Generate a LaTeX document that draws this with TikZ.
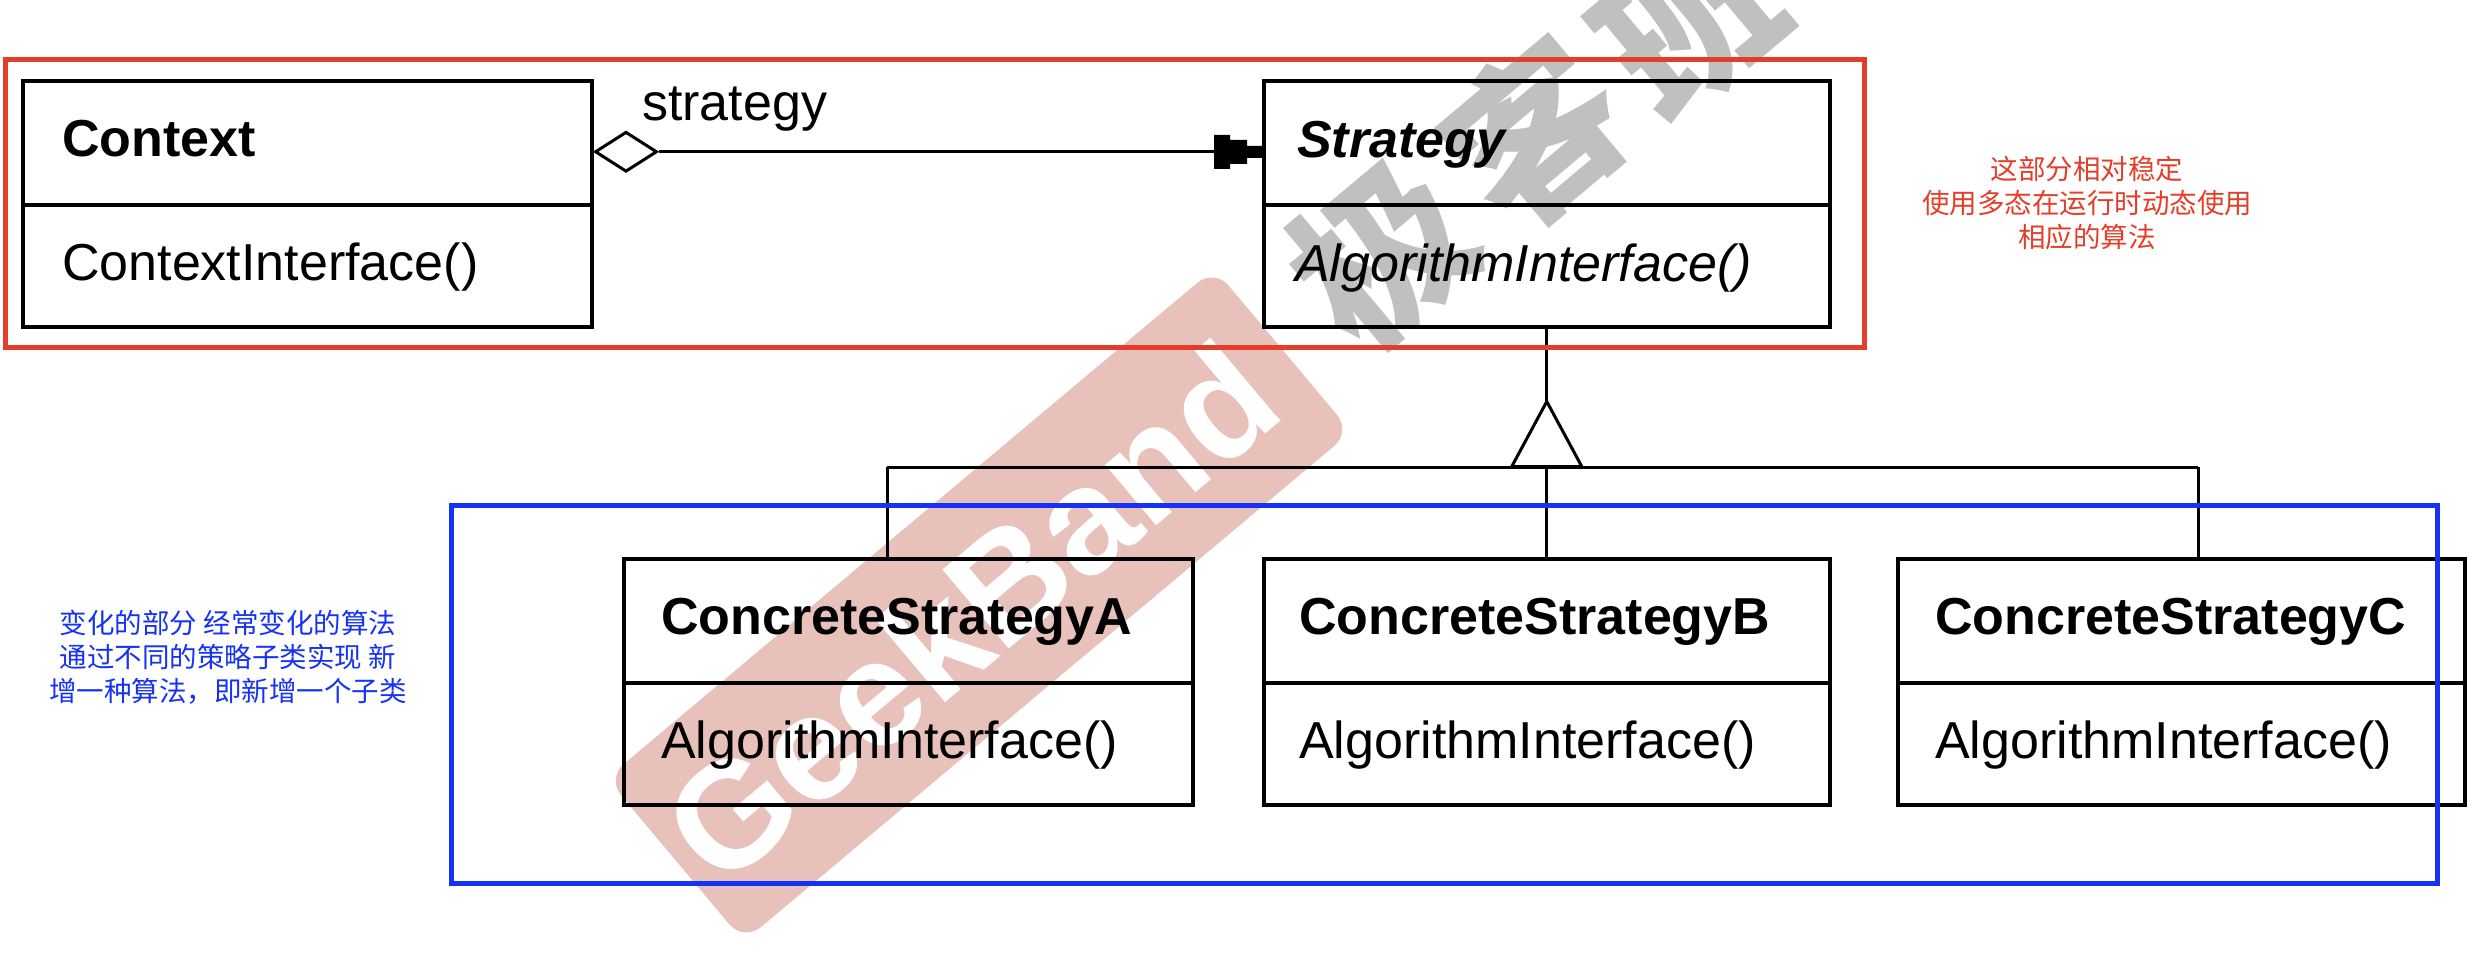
\documentclass[tikz,border=0pt]{standalone}
\usepackage{fontspec}
\setmainfont{Liberation Sans}
\newfontfamily\cjk{Noto Sans CJK SC}
\usetikzlibrary{shapes.geometric,calc}
\definecolor{boxred}{RGB}{229,62,40}
\definecolor{boxblue}{RGB}{22,50,245}
\definecolor{wmpink}{RGB}{231,193,186}
\definecolor{wmgray}{RGB}{192,192,192}
\begin{document}
\begin{tikzpicture}[x=1pt,y=-1pt,
  namecomp/.style={draw, line width=3.5pt, inner sep=0pt, anchor=north west, minimum height=124pt},
  opcomp/.style={draw, line width=3.5pt, inner sep=0pt, anchor=north west, minimum height=122pt},
  lbl/.style={inner sep=0pt, anchor=base west, font=\fontsize{52}{60}\selectfont},
  conn/.style={line width=3pt},
  frame/.style={line width=5pt},
  note/.style={inner sep=0pt, align=center, font=\cjk\fontsize{27.5}{34}\selectfont},
  wmchar/.style={inner sep=0pt, text=wmgray, rotate=40, font=\cjk\bfseries\fontsize{172}{172}\selectfont}
]
\useasboundingbox (0,0) rectangle (2488,954);
\fill[white] (0,0) rectangle (2488,954);

% watermark (behind the diagram)
\node[fill=wmpink, rounded corners=22pt, minimum width=793pt, minimum height=213pt, inner sep=0pt, rotate=40] (wmRect) at (979,605) {};
\node[inner sep=0pt, text=white, rotate=40, font=\bfseries\fontsize{150}{150}\selectfont] (wmText) at (970,612) {GeekBand};
\node[wmchar] (wmA) at (1382,252) {极};
\node[wmchar] (wmB) at (1535,132) {客};
\node[wmchar] (wmC) at (1688,20) {班};

% Context
\node[namecomp, minimum width=569pt] (ctxN) at (21,79) {};
\node[opcomp, minimum width=569pt] (ctxM) at (21,203) {};
\node[lbl] (ctxT) at ($(ctxN.north west)+(41,77)$) {\bfseries Context};
\node[lbl] (ctxO) at ($(ctxM.north west)+(41,77)$) {ContextInterface()};

% Strategy
\node[namecomp, minimum width=566pt] (stratN) at (1262,79) {};
\node[opcomp, minimum width=566pt] (stratM) at (1262,203) {};
\node[lbl] (stratT) at ($(stratN.north west)+(35,78)$) {\bfseries\itshape Strategy};
\node[lbl] (stratO) at ($(stratM.north west)+(33,78)$) {\itshape AlgorithmInterface()};

% Concrete strategies
\node[namecomp, minimum width=569pt] (aN) at (622,557) {};
\node[opcomp, minimum width=569pt] (aM) at (622,681) {};
\node[lbl] (aT) at ($(aN.north west)+(39,77)$) {\bfseries ConcreteStrategyA};
\node[lbl] (aO) at ($(aM.north west)+(39,77)$) {AlgorithmInterface()};

\node[namecomp, minimum width=566pt] (bN) at (1262,557) {};
\node[opcomp, minimum width=566pt] (bM) at (1262,681) {};
\node[lbl] (bT) at ($(bN.north west)+(37,77)$) {\bfseries ConcreteStrategyB};
\node[lbl] (bO) at ($(bM.north west)+(37,77)$) {AlgorithmInterface()};

\node[namecomp, minimum width=567pt] (cN) at (1896,557) {};
\node[opcomp, minimum width=567pt] (cM) at (1896,681) {};
\node[lbl] (cT) at ($(cN.north west)+(39,77)$) {\bfseries ConcreteStrategyC};
\node[lbl] (cO) at ($(cM.north west)+(39,77)$) {AlgorithmInterface()};

% aggregation
\coordinate (aggL) at ($(ctxN.east)+(0,9)$);
\coordinate (tip) at ($(stratN.west)+(0,9)$);
\node[diamond, draw, line width=3pt, fill=white, minimum width=62pt, minimum height=40pt, inner sep=0pt, anchor=west] (agg) at (aggL) {};
\draw[conn] (agg.east) -- (tip);
\fill ($(tip)+(-48,-17)$) -- ($(tip)+(-48,17)$) -- ($(tip)+(-32,17)$) -- ($(tip)+(-32,12)$) -- ($(tip)+(-15,12)$) -- ($(tip)+(-15,6)$) -- ($(tip)+(0,6)$) -- ($(tip)+(0,-6)$) -- ($(tip)+(-15,-6)$) -- ($(tip)+(-15,-12)$) -- ($(tip)+(-32,-12)$) -- ($(tip)+(-32,-17)$) -- cycle;
\node[lbl] (roleLbl) at (642,120) {strategy};

% inheritance
\coordinate (apex) at ($(stratM.south)+(0,73)$);
\coordinate (busL) at (887,467);
\coordinate (busR) at (2198,467);
\draw[conn] (stratM.south) -- (apex);
\draw[conn] (busL) -- (busR);
\draw[conn] (busL) -- (busL |- aN.north);
\draw[conn] (apex |- busL) -- (bN.north);
\draw[conn] (busR) -- (busR |- cN.north);
\draw[conn, fill=white, line join=miter] (apex) -- ($(apex)+(-35,65)$) -- ($(apex)+(35,65)$) -- cycle;

% frames
\draw[frame, draw=boxred] (5,59) rectangle (1864,347);
\draw[frame, draw=boxblue] (451,505) rectangle (2437,883);

% notes
\node[note, text=boxred] (redNote) at (2087,203) {这部分相对稳定\\使用多态在运行时动态使用\\相应的算法};
\node[note, text=boxblue] (blueNote) at (228,657) {变化的部分 经常变化的算法\\通过不同的策略子类实现 新\\增一种算法，即新增一个子类};
\end{tikzpicture}
\end{document}
